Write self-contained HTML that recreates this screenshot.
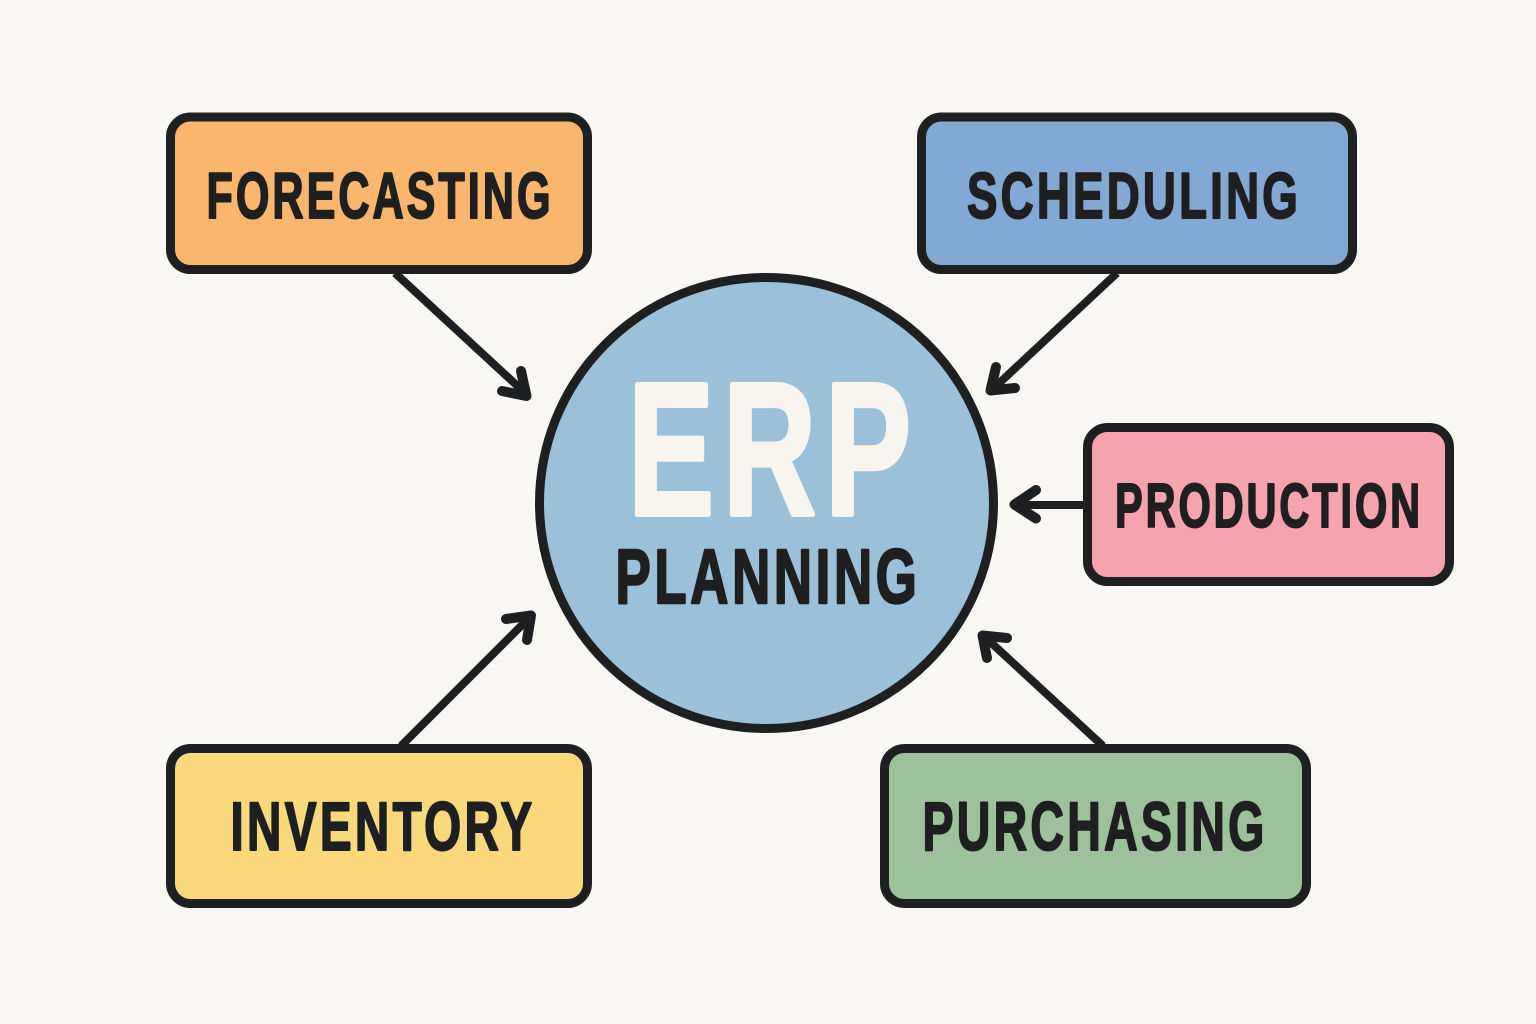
<!DOCTYPE html>
<html>
<head>
<meta charset="utf-8">
<style>
html,body{margin:0;padding:0;background:#f9f7f3;}
svg{display:block;}
text{font-family:"Liberation Sans",sans-serif;font-weight:700;fill:#1e1f20;stroke:#1e1f20;stroke-width:2;stroke-linejoin:round;letter-spacing:.07em;}
</style>
</head>
<body>
<svg width="1536" height="1024" viewBox="0 0 1536 1024" xmlns="http://www.w3.org/2000/svg">
<rect width="1536" height="1024" fill="#f9f7f3"/>
<g stroke="#1e1f20" stroke-width="8" fill="none">
<path d="M395 273L524 392"/>
<path d="M502 391L526.500 396L521 371" stroke-width="10" stroke-linecap="round" stroke-linejoin="round"/>
<path d="M1117 273L994 388"/>
<path d="M996 367L990.500 390.500L1015 388" stroke-width="10" stroke-linecap="round" stroke-linejoin="round"/>
<path d="M1086 505H1018"/>
<path d="M1036 490L1014.500 504.500L1036 518.500" stroke-width="10" stroke-linecap="round" stroke-linejoin="round"/>
<path d="M401 746L529 618"/>
<path d="M506 619L531 615.500L527 640" stroke-width="10" stroke-linecap="round" stroke-linejoin="round"/>
<path d="M1103 746L986 638"/>
<path d="M987 658L982.500 635.500L1007 638" stroke-width="10" stroke-linecap="round" stroke-linejoin="round"/>
</g>
<ellipse cx="766.5" cy="503" rx="227" ry="225.5" fill="#9ac1d9" stroke="#1e1f20" stroke-width="9"/>
<g stroke="#1e1f20" stroke-width="9">
<rect x="170.5" y="117" width="417" height="152.5" rx="20" fill="#f9b66c"/>
<rect x="921.5" y="117" width="431" height="152.5" rx="20" fill="#82a9d3"/>
<rect x="1087.5" y="427.5" width="362" height="154" rx="20" fill="#f6a3b0"/>
<rect x="170.5" y="748.5" width="417" height="155" rx="20" fill="#fad97c"/>
<rect x="884.5" y="748.5" width="422" height="155" rx="20" fill="#9cc19b"/>
</g>
<g text-anchor="middle">
<text x="380" y="218" font-size="65" textLength="347" lengthAdjust="spacingAndGlyphs">FORECASTING</text>
<text x="1134" y="218" font-size="65" textLength="334" lengthAdjust="spacingAndGlyphs">SCHEDULING</text>
<text x="1269" y="527" font-size="62.500" textLength="308" lengthAdjust="spacingAndGlyphs">PRODUCTION</text>
<text x="383" y="850" font-size="68.500" textLength="305" lengthAdjust="spacingAndGlyphs">INVENTORY</text>
<text x="1095" y="850" font-size="68.500" textLength="345" lengthAdjust="spacingAndGlyphs">PURCHASING</text>
<text x="768" y="603" font-size="77" textLength="305" lengthAdjust="spacingAndGlyphs" style="stroke-width:2.400">PLANNING</text>
<text x="774" y="514.500" font-size="189" textLength="292" lengthAdjust="spacingAndGlyphs" style="fill:#f8f5f0;stroke:#f8f5f0;stroke-width:5">ERP</text>
</g>
</svg>
</body>
</html>
